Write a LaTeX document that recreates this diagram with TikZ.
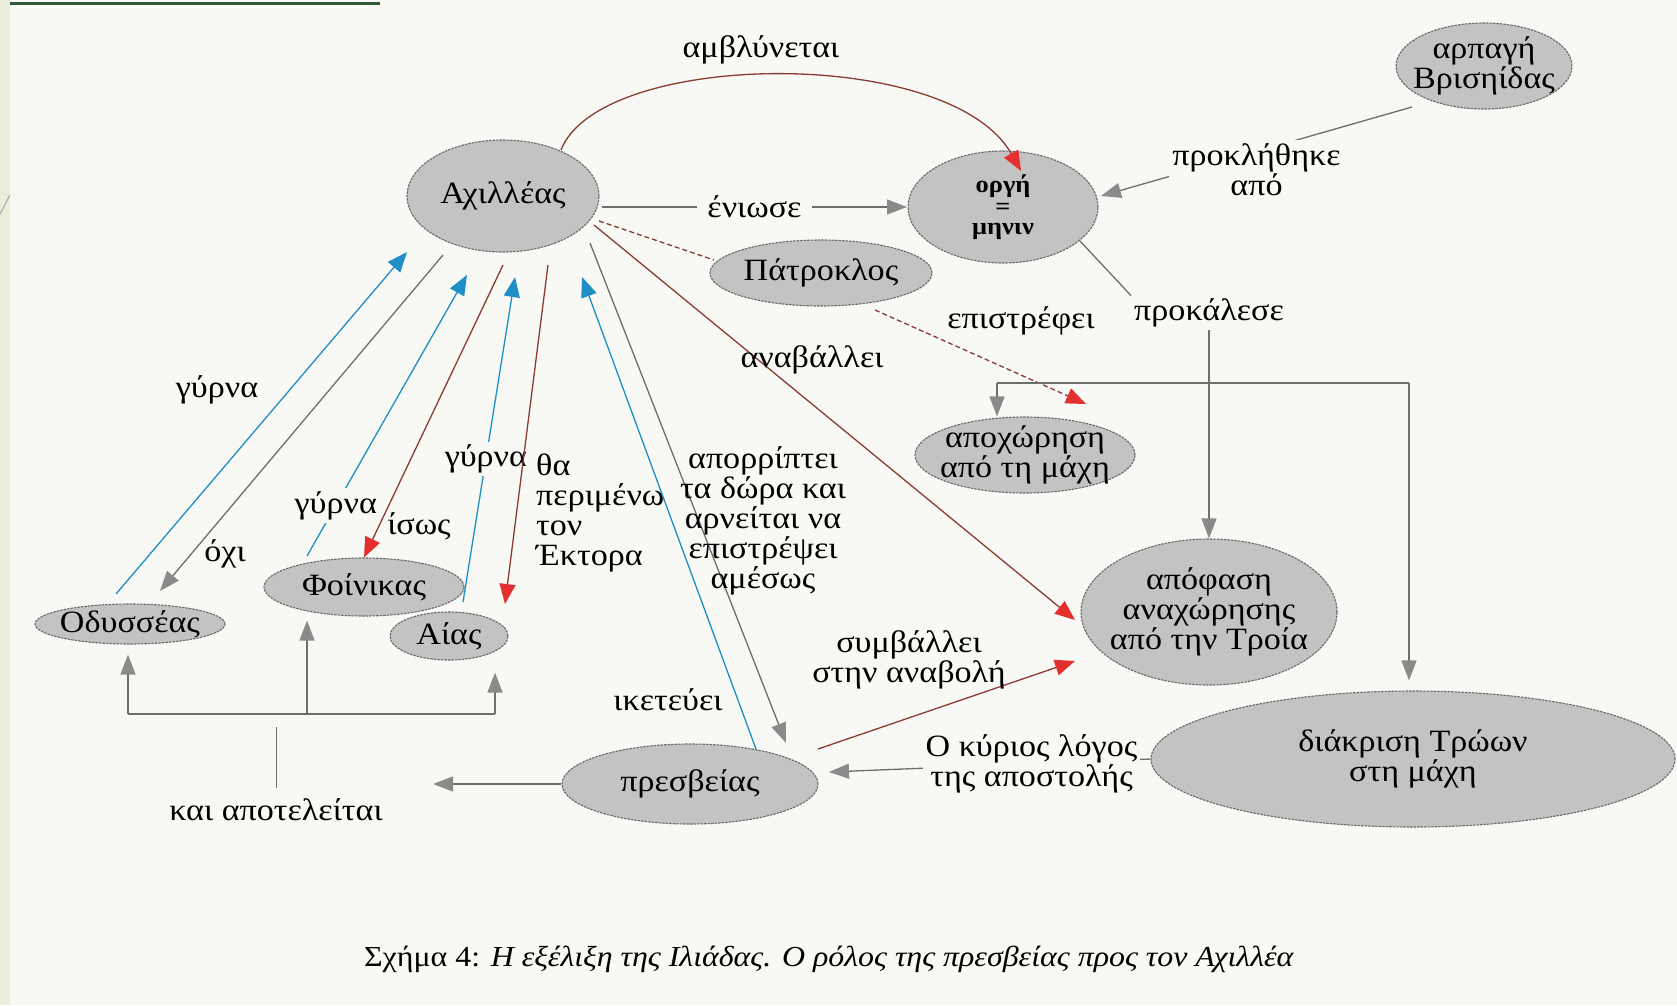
\documentclass[tikz,border=0pt]{standalone}
\usepackage{fontspec}
\setmainfont[FakeStretch=1.1]{Liberation Serif}
\usetikzlibrary{arrows.meta,shapes.geometric}
\definecolor{bg}{HTML}{F8F8F5}
\definecolor{strip}{HTML}{E9EEDB}
\definecolor{topgreen}{HTML}{2F5A3A}
\definecolor{nodefill}{HTML}{C3C3C3}
\definecolor{nodeline}{HTML}{6A6A6A}
\definecolor{blueA}{HTML}{1E8FC6}
\definecolor{redA}{HTML}{E3302F}
\definecolor{redL}{HTML}{8C3B33}
\definecolor{grayA}{HTML}{8A8A8A}
\definecolor{grayL}{HTML}{6E6E6E}
\tikzset{
  ell/.style={ellipse, draw=nodeline, fill=nodefill, line width=1.1pt, dash pattern=on 2.5pt off 1pt,
    inner xsep=-14pt, inner ysep=-6pt, align=center, font=\fontsize{31}{30}\selectfont},
  lbl/.style={align=center, inner sep=3pt, font=\fontsize{31}{30}\selectfont},
  lblf/.style={lbl, fill=bg},
  conn/.style={line width=1.3pt},
  bluearr/.style={conn, draw=blueA, -{Triangle[length=20pt,width=16pt,color=blueA]}},
  redarr/.style={conn, draw=redL, -{Triangle[length=20pt,width=16pt,color=redA]}},
  grayarr/.style={conn, draw=grayL, -{Triangle[length=20pt,width=15pt,color=grayA]}},
  grayline/.style={conn, draw=grayL},
  dashline/.style={conn, draw=redL, dash pattern=on 5pt off 3pt},
}
\begin{document}
\begin{tikzpicture}[x=1pt,y=-1pt]
\useasboundingbox (0,0) rectangle (1677,1005);
\fill[bg] (0,0) rectangle (1677,1005);
\fill[strip] (0,0) rectangle (10,1005);
\draw[topgreen, line width=3pt] (10,3) -- (380,3);
\draw[gray!70, line width=1pt] (0,214) -- (10,195);

% nodes
\node[ell, minimum width=192pt, minimum height=112pt] (achil) at (503,196) {Αχιλλέας};
\node[ell, minimum width=190pt, minimum height=112pt, font=\fontsize{24}{16}\selectfont\bfseries] (orgi) at (1003,207) {οργή\\[4pt]=\\[4pt]μηνιν};
\node[ell, minimum width=176pt, minimum height=86pt] (brisi) at (1484,66) {αρπαγή\\Βρισηίδας};
\node[ell, minimum width=222pt, minimum height=66pt] (patro) at (821,273) {Πάτροκλος};
\node[ell, minimum width=220pt, minimum height=76pt] (apox) at (1025,455) {αποχώρηση\\από τη μάχη};
\node[ell, minimum width=256pt, minimum height=146pt] (apof) at (1209,612) {απόφαση\\αναχώρησης\\από την Τροία};
\node[ell, minimum width=524pt, minimum height=136pt] (diak) at (1413,759) {διάκριση Τρώων\\στη μάχη};
\node[ell, minimum width=256pt, minimum height=80pt] (presv) at (690,784) {πρεσβείας};
\node[ell, minimum width=190pt, minimum height=40pt] (odys) at (130,624) {Οδυσσέας};
\node[ell, minimum width=200pt, minimum height=58pt] (foin) at (364,587) {Φοίνικας};
\node[ell, minimum width=118pt, minimum height=48pt] (aias) at (449,636) {Αίας};

% top
\draw[redarr] ([shift={(58,-46)}]achil.center) .. controls (600,50) and (950,45) .. ([shift={(18,-36)}]orgi.center);
\node[lbl] (lamv) at (761,50) {αμβλύνεται};
\draw[grayarr] ([shift={(99,11)}]achil.center) -- node[lblf, inner xsep=10pt]{ένιωσε} ([shift={(-96,0)}]orgi.center);
\draw[grayarr] ([shift={(-72,41)}]brisi.center) -- node[lblf, yshift=-18pt]{προκλήθηκε\\από} ([shift={(98,-11)}]orgi.center);

% Patroklos
\draw[dashline] ([shift={(96,25)}]achil.center) -- ([shift={(-107,-13)}]patro.center);
\coordinate (epi) at ([shift={(61,-51)}]apox.center);
\draw[dashline, -{Triangle[length=20pt,width=16pt,color=redA]}] ([shift={(54,37)}]patro.center) -- (epi);
\node[lbl] (lepi) at (1021,321) {επιστρέφει};

% prokalese
\node[lbl] (prok) at (1209,313) {προκάλεσε};
\draw[grayline] ([shift={(77,34)}]orgi.center) -- (prok.north west);
\draw[grayarr] (prok.south) -- (prok.south |- apof.north);
\coordinate (hl) at (997,383);
\coordinate (hr) at (1409,383);
\draw[grayline] (hl) -- (hr);
\draw[grayarr] (hl) -- (hl |- apox.north);
\draw[grayarr, shorten >=10pt] (hr) -- (hr |- diak.north);

% anavallei
\draw[redarr] ([shift={(91,29)}]achil.center) -- ([shift={(-134,8)}]apof.center);
\node[lbl] (lanav) at (812,360) {αναβάλλει};

% left cluster
\draw[bluearr] ([shift={(-14,-30)}]odys.center) -- ([shift={(-96,56)}]achil.center);
\node[lbl] (lg1) at (217,390) {γύρνα};
\draw[grayarr] ([shift={(-60,59)}]achil.center) -- ([shift={(30,-33)}]odys.center);
\node[lbl] (loxi) at (225,554) {όχι};
\draw[bluearr] ([shift={(-57,-31)}]foin.center) -- node[lblf, pos=0.18]{γύρνα} ([shift={(-36,79)}]achil.center);
\draw[redarr] ([shift={(0,69)}]achil.center) -- (foin.north);
\node[lbl] (lisos) at (419,526) {ίσως};
\draw[bluearr] ([shift={(14,-34)}]aias.center) -- node[lblf, pos=0.44]{γύρνα} ([shift={(12,81)}]achil.center);
\draw[redarr] ([shift={(45,69)}]achil.center) -- ([shift={(56,-32)}]aias.center);
\node[lbl, align=left, anchor=west] (lhec) at (533,513) {θα\\περιμένω\\τον\\Έκτορα};

% presveia
\draw[bluearr] ([shift={(66,-35)}]presv.center) -- ([shift={(79,81)}]achil.center);
\node[lbl] (liket) at (668,700) {ικετεύει};
\draw[grayarr] ([shift={(87,47)}]achil.center) -- ([shift={(96,-41)}]presv.center);
\node[lbl] (lapor) at (763,521) {απορρίπτει\\τα δώρα και\\αρνείται να\\επιστρέψει\\αμέσως};
\draw[redarr] ([shift={(128,-35)}]presv.center) -- ([shift={(-134,49)}]apof.center);
\node[lbl] (lsymv) at (909,660) {συμβάλλει\\στην αναβολή};
\draw[grayarr] (diak.west) -- node[lblf, pos=0.37]{Ο κύριος λόγος\\της αποστολής} ([shift={(139,-12)}]presv.center);

\coordinate (kaiarr) at (433,786);
\draw[grayarr] (presv.west) -- (presv.west -| kaiarr);
\node[lbl] (kai) at (276,810) {και αποτελείται};
\coordinate (kaitop) at (276,727);
\draw[grayL, line width=1pt, shorten <=8pt] (kai.north) -- (kaitop);
\coordinate (b1) at (128,714);
\coordinate (b2) at (307,714);
\coordinate (b3) at (495,714);
\draw[grayline] (b1) -- (b3);
\draw[grayarr, shorten >=10pt] (b1) -- (b1 |- odys.south);
\draw[grayarr, shorten >=4pt] (b2) -- (b2 |- foin.south);
\draw[grayarr, shorten >=12pt] (b3) -- (b3 |- aias.south);

% caption
\node[font=\fontsize{29}{30}\selectfont] (cap) at (829,959) {Σχήμα 4: \textit{Η εξέλιξη της Ιλιάδας. Ο ρόλος της πρεσβείας προς τον Αχιλλέα}};
\end{tikzpicture}
\end{document}
